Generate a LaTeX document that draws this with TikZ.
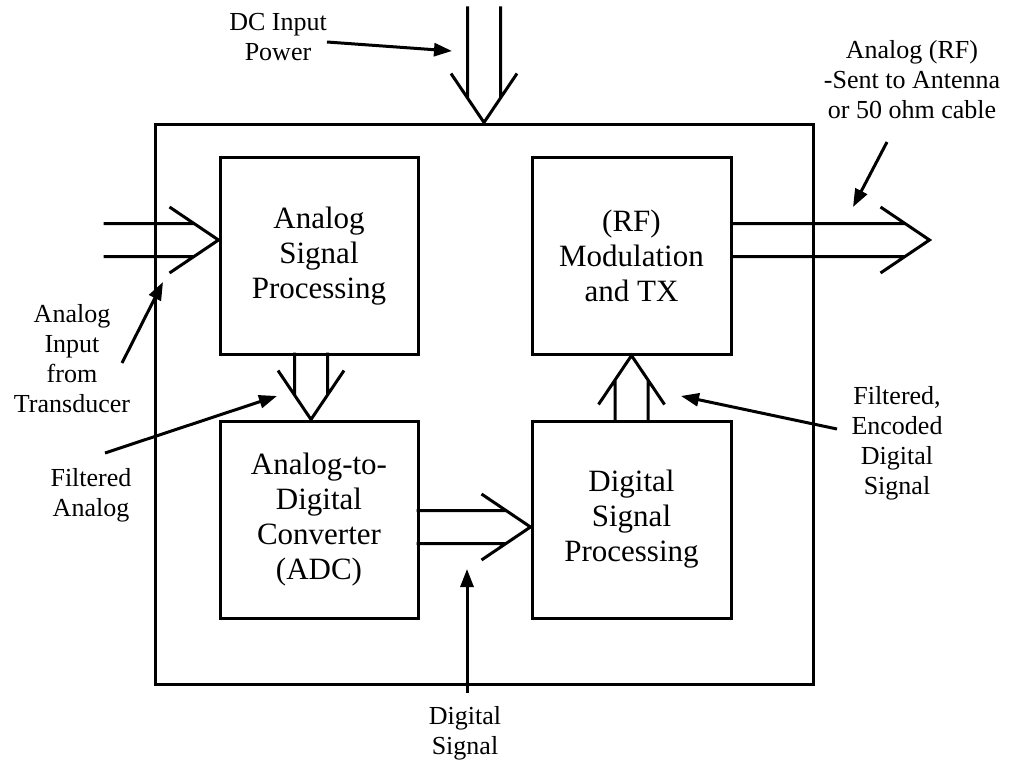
\documentclass[tikz,border=0pt]{standalone}
\usepackage{fontspec}
\setmainfont{Liberation Serif}
\usetikzlibrary{arrows.meta,calc}
\newcommand\hollowarrow[3]{\draw[fat, shift={(#1)}, rotate=#2] (-49,33) -- (0,0) -- (-49,-33) (-#3,16.5) -- (-24.5,16.5) (-#3,-16.5) -- (-24.5,-16.5);}
\begin{document}
\begin{tikzpicture}[x=1pt,y=-1pt, line width=3pt,
  blk/.style={draw, line width=3pt, minimum width=198pt, minimum height=196pt, inner sep=0pt, align=center, font=\fontsize{31}{35}\selectfont},
  ann/.style={font=\fontsize{26}{30}\selectfont, align=center, inner sep=0pt},
  fat/.style={line width=3pt, line cap=butt, line join=miter},
  pointer/.style={line width=3pt, -{Triangle[length=18pt,width=13pt]}}]
\useasboundingbox (0,0) rectangle (1010,765);
% system box and blocks
\node[draw, line width=3pt, minimum width=658pt, minimum height=559pt, inner sep=0pt] (sys) at (484,404.5) {};
\node[blk] (asp) at (319,256) {Analog\\Signal\\Processing};
\node[blk, minimum height=197pt] (adc) at (319,519.5) {Analog-to-\\Digital\\Converter\\(ADC)};
\node[blk, minimum width=199pt] (rf) at (631.5,256) {(RF)\\Modulation\\and TX};
\node[blk, minimum width=199pt, minimum height=197pt] (dsp) at (631.5,519.5) {Digital\\Signal\\Processing};
% hollow (bus) arrows
\coordinate (dctip) at ($(sys.north)+(0,-1)$);
\coordinate (intip) at ($(asp.west)+(0,-16)$);
\coordinate (adtip) at ($(adc.north)+(-8,0)$);
\coordinate (dstip) at ($(dsp.west)+(0,7.5)$);
\coordinate (rftip) at (rf.south);
\coordinate (outtip) at ($(rf.east)+(197,-16)$);
\hollowarrow{dctip}{-90}{116}
\hollowarrow{intip}{0}{115}
\hollowarrow{adtip}{-90}{67}
\hollowarrow{dstip}{0}{114}
\hollowarrow{rftip}{90}{67}
\hollowarrow{outtip}{0}{197}
% annotation texts
\node[ann] (dctext) at (278,37) {DC Input\\Power};
\node[ann] (rftext) at (912,80) {Analog (RF)\\-Sent to Antenna\\or 50 ohm cable};
\node[ann] (intext) at (72,359) {Analog\\Input\\from\\Transducer};
\node[ann] (fatext) at (91,495) {Filtered\\Analog};
\node[ann] (fetext) at (897,443) {Filtered,\\Encoded\\Digital\\Signal};
\node[ann] (dstext) at (465,733) {Digital\\Signal};
% annotation pointers
\coordinate (p1a) at (327,42);  \coordinate (p1b) at (452,51);
\coordinate (p2a) at (887,142); \coordinate (p2b) at (853,207);
\coordinate (p3a) at (122,363); \coordinate (p3b) at (163,282);
\coordinate (p4a) at (105,453); \coordinate (p4b) at (277,396);
\coordinate (p5a) at (837,429); \coordinate (p5b) at (681,396);
\coordinate (p6a) at (467,693); \coordinate (p6b) at (467,569);
\draw[pointer] (p1a) -- (p1b);
\draw[pointer] (p2a) -- (p2b);
\draw[pointer] (p3a) -- (p3b);
\draw[pointer] (p4a) -- (p4b);
\draw[pointer] (p5a) -- (p5b);
\draw[pointer] (p6a) -- (p6b);
\end{tikzpicture}
\end{document}
